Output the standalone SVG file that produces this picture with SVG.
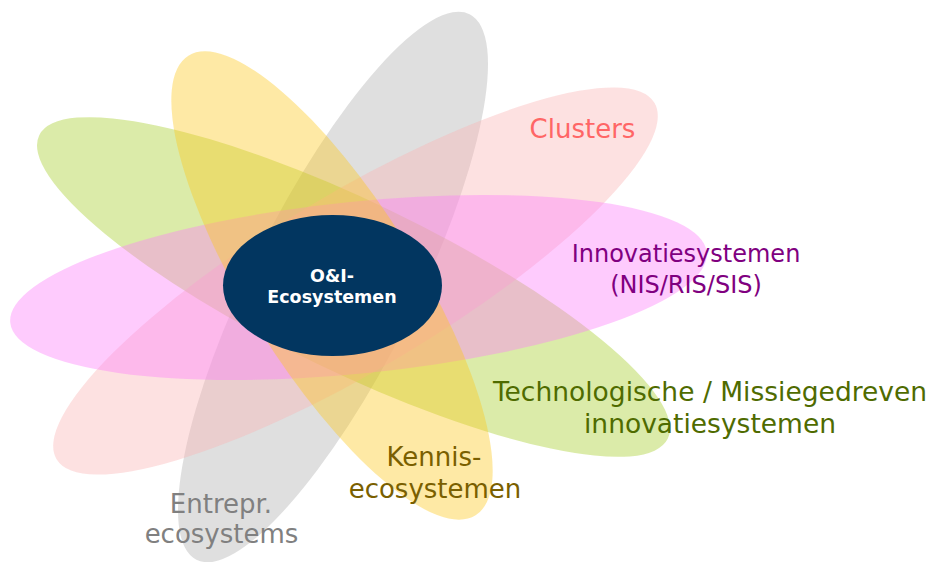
<svg xmlns="http://www.w3.org/2000/svg" width="931" height="562" viewBox="0 0 931 562">
<style>
.pet{fill-opacity:0.4;stroke:none}
.lbl{font-family:"DejaVu Sans",Verdana,sans-serif;text-anchor:middle}
</style>
<rect width="931" height="562" fill="#ffffff"/>
<g id="petal-entrepr"><ellipse class="pet" cx="333" cy="287" rx="305" ry="82" fill="#afafaf" transform="rotate(116.6 333 287)"/></g>
<g id="petal-tech"><ellipse class="pet" cx="353.5" cy="287" rx="349" ry="85" fill="#a5cd28" transform="rotate(25.75 353.5 287)"/></g>
<g id="petal-clusters"><ellipse class="pet" cx="355.5" cy="281" rx="348" ry="88" fill="#fab4b4" transform="rotate(-30.8 355.5 281)"/></g>
<g id="petal-innov"><ellipse class="pet" cx="358.5" cy="287.5" rx="350" ry="86" fill="#fc7dfa" transform="rotate(-5.77 358.5 287.5)"/></g>
<g id="petal-kennis"><ellipse class="pet" cx="332" cy="285.5" rx="271" ry="85" fill="#fcc81e" transform="rotate(58 332 285.5)"/></g>
<g id="center">
<ellipse cx="332.5" cy="285.5" rx="109.5" ry="70.5" fill="#023660"/>
<text class="lbl" x="332" y="282" font-size="17.5" font-weight="bold" fill="#ffffff">O&amp;I-</text>
<text class="lbl" x="332" y="303" font-size="17.5" font-weight="bold" fill="#ffffff">Ecosystemen</text>
</g>
<g id="labels" class="lbl" font-size="26">
<text x="582.5" y="138" fill="#ff6666">Clusters</text>
<text x="686" y="262" fill="#800080" font-size="24">Innovatiesystemen</text>
<text x="686" y="293" fill="#800080" font-size="24">(NIS/RIS/SIS)</text>
<text x="710" y="401" fill="#4f6b00" font-size="26.5">Technologische / Missiegedreven</text>
<text x="710" y="433" fill="#4f6b00" font-size="26.5">innovatiesystemen</text>
<text x="434" y="466" fill="#7a5f00">Kennis-</text>
<text x="435" y="498" fill="#7a5f00">ecosystemen</text>
<text x="221" y="513" fill="#808080">Entrepr.</text>
<text x="221.5" y="543" fill="#808080">ecosystems</text>
</g>
</svg>
